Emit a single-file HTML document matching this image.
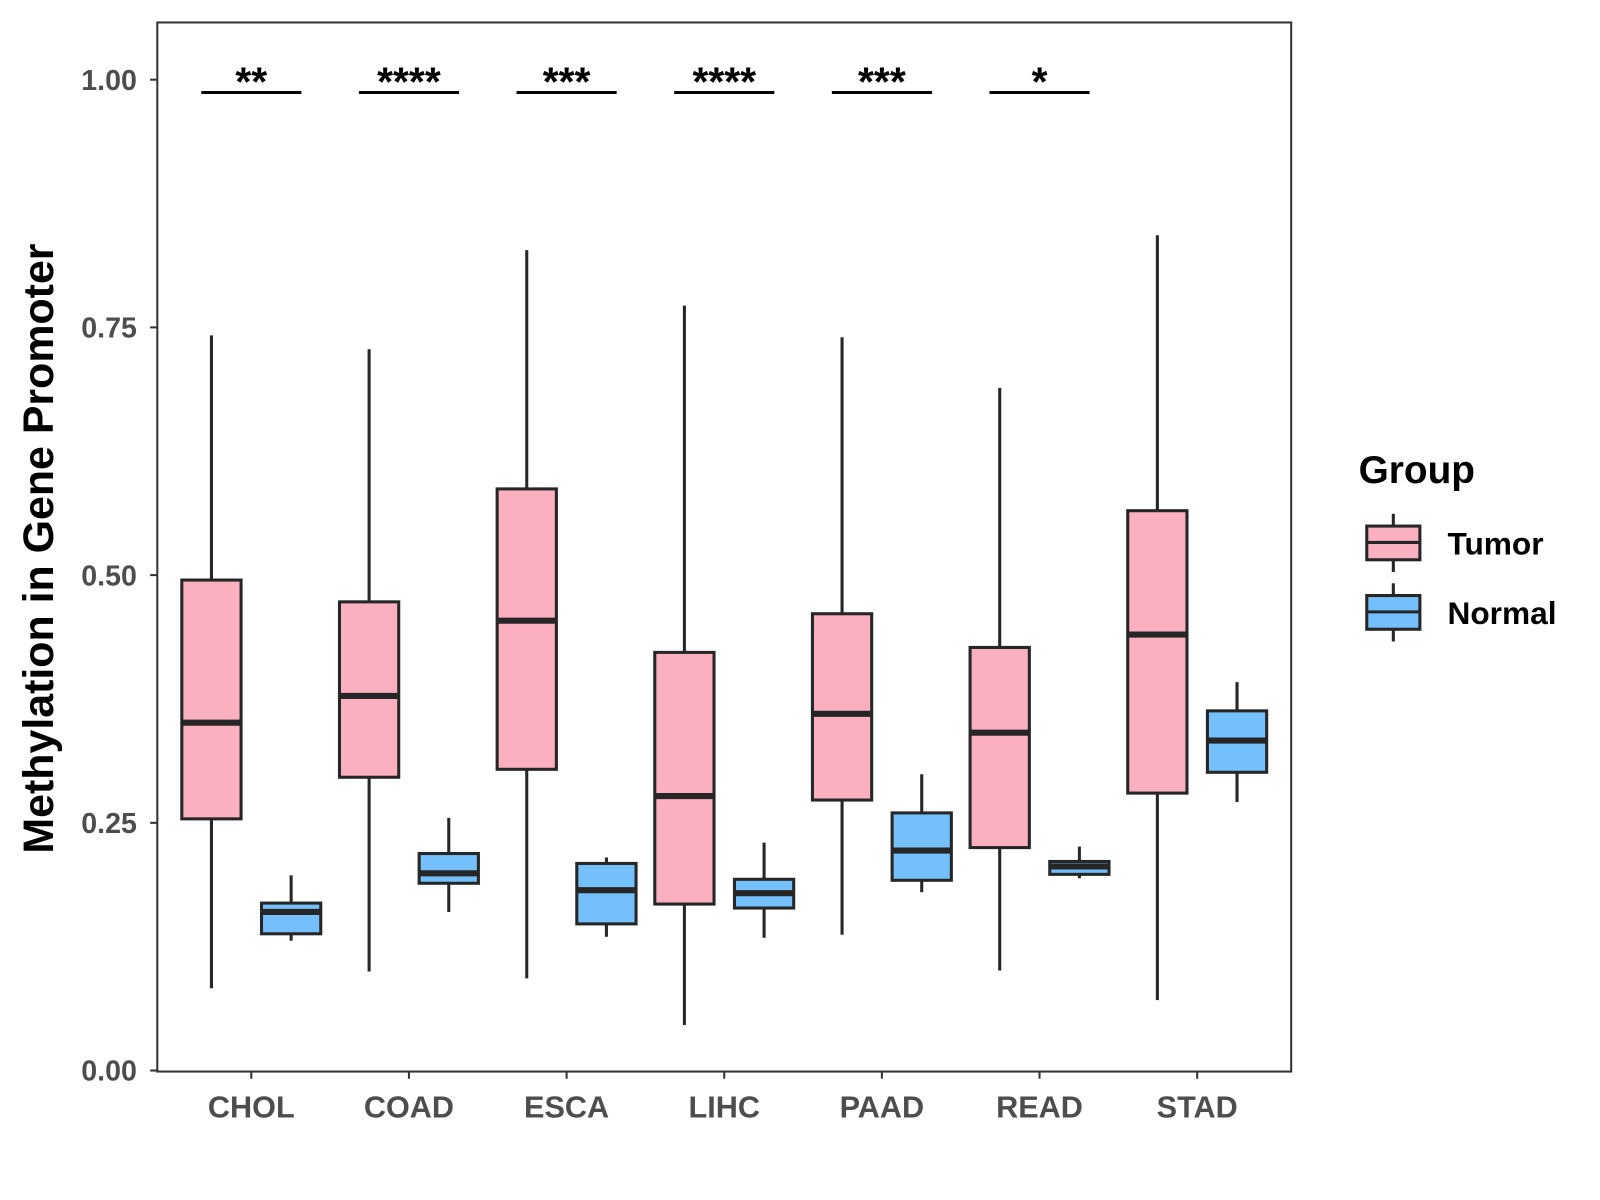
<!DOCTYPE html>
<html><head><meta charset="utf-8"><style>
body{margin:0;background:#fff}
svg{display:block;font-family:"Liberation Sans",Arial,sans-serif;font-weight:bold}
</style></head><body>
<svg id="chart" width="1600" height="1200" viewBox="0 0 1600 1200" xmlns="http://www.w3.org/2000/svg">
<rect x="0" y="0" width="1600" height="1200" fill="#fff"/>
<g transform="scale(1.0215)">
<g id="plot"></g>
<text transform="translate(52,537) rotate(-90)" text-anchor="middle" font-size="42" fill="#000">Methylation in Gene Promoter</text>
<g>
<text x="1330" y="473" font-size="38" fill="#000">Group</text>
<g>
<line x1="1364" y1="503" x2="1364" y2="560" stroke="#262626" stroke-width="3"/>
<rect x="1338" y="515" width="52" height="33" fill="#FBB0C0" stroke="#262626" stroke-width="3"/>
<line x1="1338" y1="531" x2="1390" y2="531" stroke="#262626" stroke-width="3"/>
<text x="1417" y="543" font-size="31" fill="#000">Tumor</text>
</g>
<g>
<line x1="1364" y1="571" x2="1364" y2="628" stroke="#262626" stroke-width="3"/>
<rect x="1338" y="583" width="52" height="33" fill="#74C0FC" stroke="#262626" stroke-width="3"/>
<line x1="1338" y1="599" x2="1390" y2="599" stroke="#262626" stroke-width="3"/>
<text x="1417" y="611" font-size="31" fill="#000">Normal</text>
</g>
</g>
</g>
</svg>
<script>
const categories=["CHOL","COAD","ESCA","LIHC","PAAD","READ","STAD"];
const tumorLow=[0.083,0.100,0.093,0.046,0.137,0.101,0.071];
const tumorQ1=[0.254,0.296,0.304,0.168,0.273,0.225,0.280];
const tumorMed=[0.351,0.378,0.454,0.277,0.360,0.341,0.440];
const tumorQ3=[0.495,0.473,0.587,0.422,0.461,0.427,0.565];
const tumorHigh=[0.742,0.728,0.828,0.772,0.740,0.689,0.843];
const normalLow=[0.131,0.160,0.135,0.134,0.180,0.194,0.271];
const normalQ1=[0.138,0.189,0.148,0.164,0.192,0.198,0.301];
const normalMed=[0.160,0.199,0.182,0.179,0.222,0.206,0.333];
const normalQ3=[0.169,0.219,0.209,0.193,0.260,0.211,0.363];
const normalHigh=[0.197,0.255,0.215,0.230,0.299,0.226,0.392];
const signif=["**","****","***","****","***","*",""];
const yTicks=[0,0.25,0.5,0.75,1.0];
const yTickLabels=["0.00","0.25","0.50","0.75","1.00"];
const sigY=0.985;

const NS="http://www.w3.org/2000/svg";
const g=document.getElementById('plot');
const L=154,R=1264,T=22,B=1049;
const y=v=>1048-970*v;
const x=i=>246+(i)*(1172-246)/6;
function el(t,a,p){const e=document.createElementNS(NS,t);for(const k in a)e.setAttribute(k,a[k]);(p||g).appendChild(e);return e;}
const panel=el('rect',{x:L,y:T,width:R-L,height:B-T,fill:'none',stroke:'#333',"stroke-width":2});


yTicks.forEach((v,i)=>{
  const t=el('line',{x1:147,x2:L,y1:y(v),y2:y(v),stroke:'#333',"stroke-width":2});
  
  
  const tx=el('text',{x:134,y:y(v)+10,"text-anchor":"end","font-size":28,fill:'#4d4d4d'});
  tx.textContent=yTickLabels[i];
  
  
});
function box(cx,lo,q1,md,q3,hi,fill,name){
  const gg=el('g',{});
  
  
  el('line',{x1:cx,x2:cx,y1:y(hi),y2:y(q3),stroke:'#262626',"stroke-width":3},gg);
  el('line',{x1:cx,x2:cx,y1:y(q1),y2:y(lo),stroke:'#262626',"stroke-width":3},gg);
  el('rect',{x:cx-29,y:y(q3),width:58,height:y(q1)-y(q3),fill:fill,stroke:'#262626',"stroke-width":3},gg);
  el('line',{x1:cx-29,x2:cx+29,y1:y(md),y2:y(md),stroke:'#262626',"stroke-width":6},gg);
}
categories.forEach((c,i)=>{
  const cx=x(i);
  const t=el('line',{x1:cx,x2:cx,y1:B,y2:B+7,stroke:'#333',"stroke-width":2});
  
  
  const tx=el('text',{x:cx,y:1094,"text-anchor":"middle","font-size":30,fill:'#4d4d4d'});
  tx.textContent=c;
  
  
  box(cx-39,tumorLow[i],tumorQ1[i],tumorMed[i],tumorQ3[i],tumorHigh[i],'#FBB0C0','box-tumor-'+c.toLowerCase());
  box(cx+39,normalLow[i],normalQ1[i],normalMed[i],normalQ3[i],normalHigh[i],'#74C0FC','box-normal-'+c.toLowerCase());
  if(signif[i]){
    const b=el('line',{x1:cx-49,x2:cx+49,y1:y(sigY)-2,y2:y(sigY)-2,stroke:'#000',"stroke-width":3});
    
    
    const s=el('text',{x:cx,y:y(sigY)+1,"text-anchor":"middle","font-size":40,fill:'#000'});
    s.textContent=signif[i];
    
    
  }
});
</script>
</body></html>
